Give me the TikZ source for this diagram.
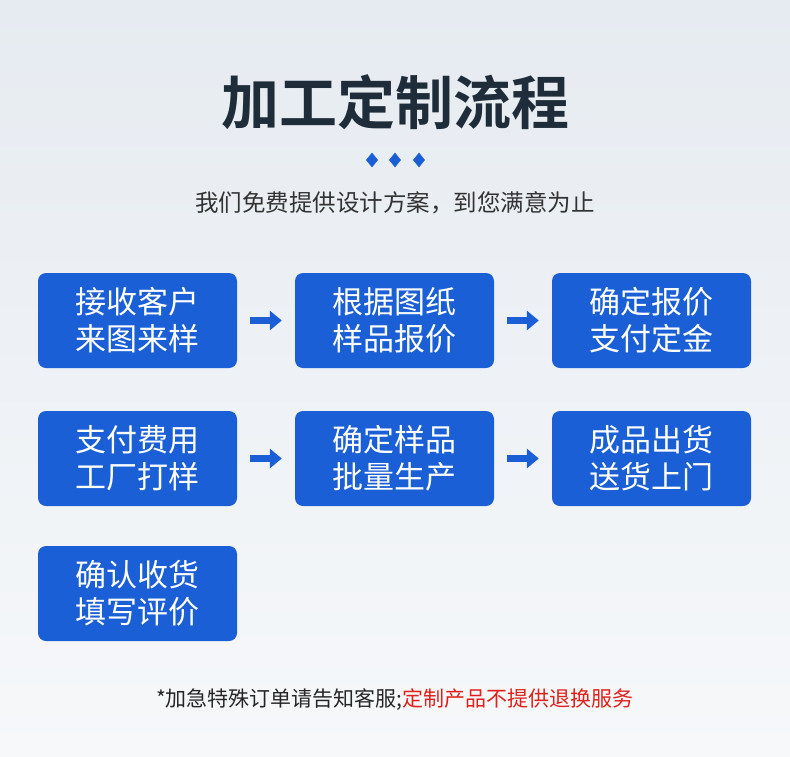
\documentclass[tikz,border=0pt]{standalone}
\usepackage{fontspec}
\newfontfamily\cjk{Noto Sans CJK SC}
\newfontfamily\cjkb{Noto Sans CJK SC Bold}
\usetikzlibrary{arrows.meta,shapes.geometric}
\definecolor{boxblue}{HTML}{1A5FD6}
\definecolor{titlec}{HTML}{1F2D3A}
\definecolor{bgA}{HTML}{E6EBF1}
\definecolor{bgB}{HTML}{F6F8FA}
\definecolor{redc}{HTML}{E0201A}
\begin{document}
\begin{tikzpicture}[x=1pt,y=-1pt,
  box/.style={fill=boxblue,rounded corners=8pt,minimum width=199pt,minimum height=95pt,text=white,align=center,font=\cjk\fontsize{31}{37}\selectfont,inner sep=0pt},
  flow/.style={draw=boxblue,line width=7pt,-{Triangle[width=19pt,length=12pt]},shorten <=13pt,shorten >=13pt},
  dia/.style={diamond,fill=boxblue,minimum width=12pt,minimum height=15pt,inner sep=0pt}]
\shade[top color=bgA,bottom color=bgB] (0,0) rectangle (790,756);
\useasboundingbox (0,0) rectangle (790,756);
\node[font=\cjkb\fontsize{58}{64}\selectfont,text=titlec] (title) at (395,102) {加工定制流程};
\node[dia] (d1) at (372,160) {};
\node[dia] (d2) at (395,160) {};
\node[dia] (d3) at (419,160) {};
\node[font=\cjk\fontsize{23.5}{26}\selectfont,text=black!80] (sub) at (395,203) {我们免费提供设计方案，到您满意为止};
\node[box] (a) at (137.5,320.5) {接收客户\\来图来样};
\node[box] (b) at (394.5,320.5) {根据图纸\\样品报价};
\node[box] (c) at (651.5,320.5) {确定报价\\支付定金};
\node[box] (d) at (137.5,458.5) {支付费用\\工厂打样};
\node[box] (e) at (394.5,458.5) {确定样品\\批量生产};
\node[box] (f) at (651.5,458.5) {成品出货\\送货上门};
\node[box] (g) at (137.5,593.5) {确认收货\\填写评价};
\draw[flow] (a) -- (b);
\draw[flow] (b) -- (c);
\draw[flow] (d) -- (e);
\draw[flow] (e) -- (f);
\node[font=\cjk\fontsize{21}{24}\selectfont] (foot) at (395,700) {\textcolor{black!85}{*加急特殊订单请告知客服;}\textcolor{redc}{定制产品不提供退换服务}};
\end{tikzpicture}
\end{document}
